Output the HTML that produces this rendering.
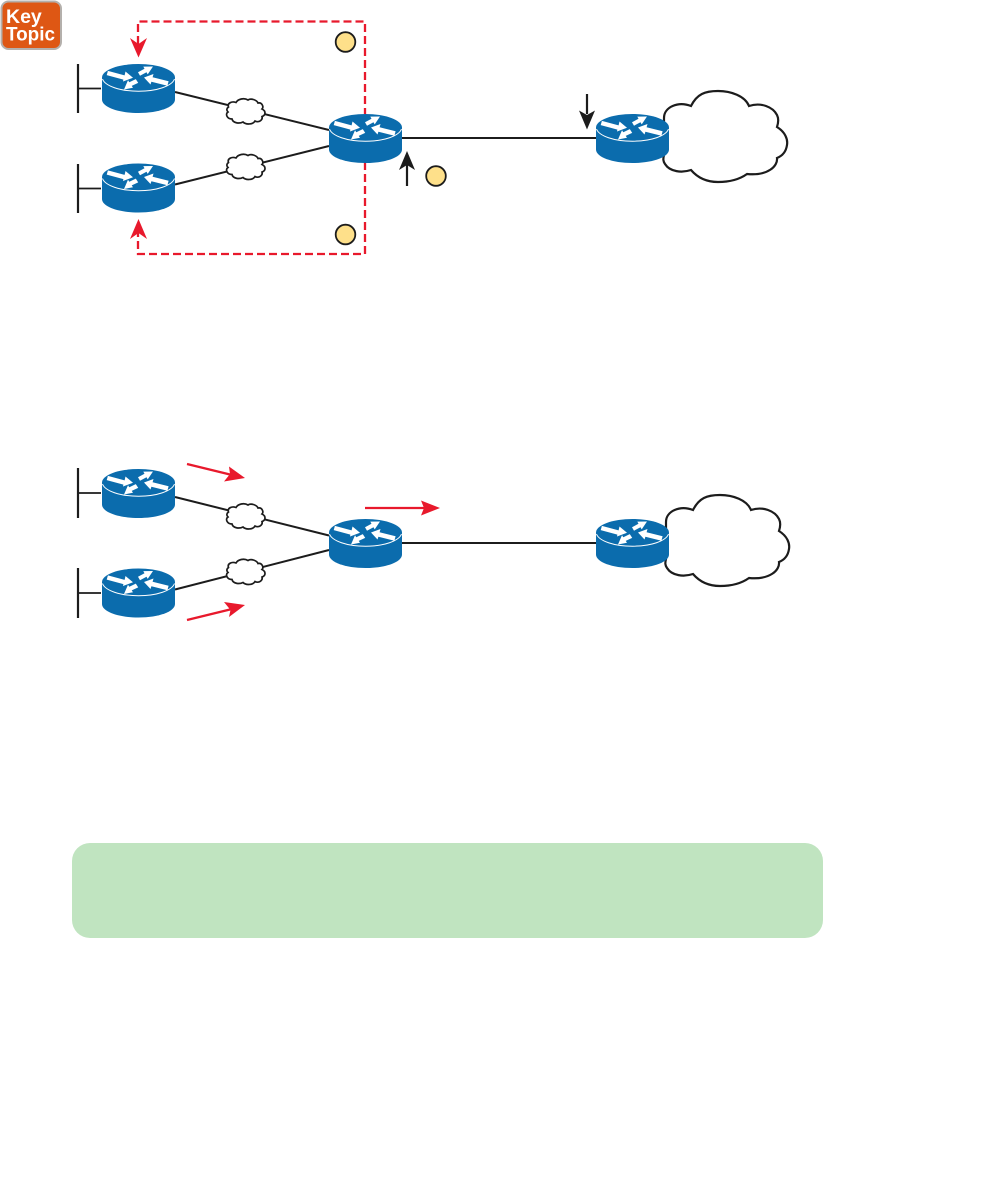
<!DOCTYPE html>
<html>
<head>
<meta charset="utf-8">
<title>Network diagram</title>
<style>
html,body{margin:0;padding:0;background:#fff;}
svg{display:block;}
</style>
</head>
<body>
<svg width="990" height="1191" viewBox="0 0 990 1191" xmlns="http://www.w3.org/2000/svg">
<defs>
<g id="router">
  <path d="M0,13.5 V35.5 C0,43 16,49 36.5,49 C57,49 73,43 73,35.5 V13.5 Z" fill="#0b6cad"/>
  <ellipse cx="36.5" cy="13.5" rx="36.5" ry="13.5" fill="#0b6cad"/>
  <path d="M0.5,15 C3,22 18,27.2 36.5,27.2 C55,27.2 70,22 72.5,15" fill="none" stroke="#fff" stroke-width="1"/>
  <g fill="#fff">
    <polygon points="5.900,6.900 22.600,11.400 23.500,7.500 31,13.700 21,17.500 21.400,15.600 4.700,11.100"/>
    <polygon points="36,8.300 42.500,4.800 41.300,2.600 51,2.500 45.700,10.400 44.500,8.200 38,11.700"/>
    <polygon points="42,13.500 51.500,10 50.600,13.300 66.600,17.300 65.400,21.700 49.400,17.700 48.500,20.500"/>
    <polygon points="22,25.500 26,16.200 27.300,18.200 33.800,15.100 36.200,18.900 29.700,21.900 31,23.800"/>
  </g>
</g>
<g id="smallcloud">
  <path d="M2.500,9 C1,5 6,3 10,4.500 C12,1 18,-0.500 22,2 C25,0 31,2 32,5 C36,4 38,9 36,11 C40,13 40,17 36,18.500 C37,22 33,25 29,23 C27,26.500 20,27 17,24 C13,26 7,25 6,21 C1,21 -1,16 2,14 C0,12 1,10 2.500,9 Z" fill="#fff" stroke="#1c1c1c" stroke-width="1.7"/>
</g>
<g id="bigcloud">
  <path d="M4,27 C4,16 18,10 31,15 C37,3 45,0 58,0 C71,0 85,5 89,15 C101,11 113,16 117,24 C119,28 118,33 117,36 C125,41 128,48 127,54 C126,61 122,65 117,67 C118,75 108,85 87,83 C80,88 70,91 58,91 C46,91 37,86 31,79 C22,82 10,81 5,73 C3,70 3,68 4,64 Z" fill="#fff" stroke="#1c1c1c" stroke-width="2.200"/>
</g>
</defs>

<rect width="990" height="1191" fill="#fff"/>

<!-- Key Topic -->
<rect x="1.5" y="1.5" width="59.5" height="47.5" rx="7" fill="#de5714" stroke="#b4b0ac" stroke-width="2"/>
<text x="6" y="23" font-family="'Liberation Sans',sans-serif" font-weight="700" font-size="19.5" fill="#fff">Key</text>
<text x="6" y="40.5" font-family="'Liberation Sans',sans-serif" font-weight="700" font-size="19.5" fill="#fff" textLength="49" lengthAdjust="spacingAndGlyphs">Topic</text>

<!-- Diagram 1 dashed -->
<g fill="none" stroke="#e8192c" stroke-width="2.300" stroke-dasharray="8 4">
  <path d="M138,44 V21.5 H365 V114"/>
  <path d="M365,162 V254 H138 V233"/>
</g>
<polygon points="130,38 138.500,44 147,38 138.500,57.500" fill="#e8192c"/>
<polygon points="130,239 138.500,233 147,239 138.500,219" fill="#e8192c"/>

<!-- Diagram 1 lines -->
<g stroke="#1c1c1c" fill="none">
  <path d="M78,64 V113" stroke-width="2.200"/>
  <path d="M78,88.500 H101" stroke-width="1.800"/>
  <path d="M78,164 V213" stroke-width="2.200"/>
  <path d="M78,188.500 H101" stroke-width="1.800"/>
  <path d="M175,92 L329,130" stroke-width="2"/>
  <path d="M175,184.500 L329,146" stroke-width="2"/>
  <path d="M402,138 H596" stroke-width="2"/>
  <path d="M407,186 V165" stroke-width="2.200"/>
  <path d="M587,94 V114" stroke-width="2.200"/>
</g>
<polygon points="399,170 407,165 415,170 407,151" fill="#1c1c1c"/>
<polygon points="579,110.500 587,115 595,110.500 587,129.500" fill="#1c1c1c"/>

<use href="#smallcloud" x="226" y="98"/>
<use href="#smallcloud" x="226" y="153.500"/>
<use href="#bigcloud" x="660" y="91"/>
<use href="#router" x="102" y="64"/>
<use href="#router" x="102" y="163.500"/>
<use href="#router" x="329" y="114"/>
<use href="#router" x="596" y="114"/>

<g fill="#fee08a" stroke="#1c1c1c" stroke-width="1.800">
  <circle cx="345.500" cy="42" r="9.800"/>
  <circle cx="436" cy="176" r="9.800"/>
  <circle cx="345.500" cy="234.500" r="9.800"/>
</g>

<!-- Diagram 2 lines -->
<g stroke="#1c1c1c" fill="none">
  <path d="M78,468 V518" stroke-width="2.200"/>
  <path d="M78,493 H101" stroke-width="1.800"/>
  <path d="M78,568 V618" stroke-width="2.200"/>
  <path d="M78,593 H101" stroke-width="1.800"/>
  <path d="M175,497 L329,535.500" stroke-width="2"/>
  <path d="M175,589.500 L329,550" stroke-width="2"/>
  <path d="M402,543 H596" stroke-width="2"/>
</g>
<use href="#smallcloud" x="226" y="503"/>
<use href="#smallcloud" x="226" y="558.500"/>
<use href="#bigcloud" x="662" y="495"/>
<use href="#router" x="102" y="469"/>
<use href="#router" x="102" y="568.500"/>
<use href="#router" x="329" y="519"/>
<use href="#router" x="596" y="519"/>

<!-- Red arrows -->
<g stroke="#e8192c" stroke-width="2.300" fill="none">
  <path d="M187,464 L232,475"/>
  <path d="M187,620 L232,609"/>
  <path d="M365,508 H426"/>
</g>
<g fill="#e8192c">
  <polygon points="229,466.500 245,478 224,481.500 230,474"/>
  <polygon points="224,602 245,605 229,617 230.500,610"/>
  <polygon points="421,500.500 440,508 421,515.500 424,508"/>
</g>

<!-- Green box -->
<rect x="72" y="843" width="751" height="95" rx="18" fill="#c0e4c0"/>
</svg>
</body>
</html>
